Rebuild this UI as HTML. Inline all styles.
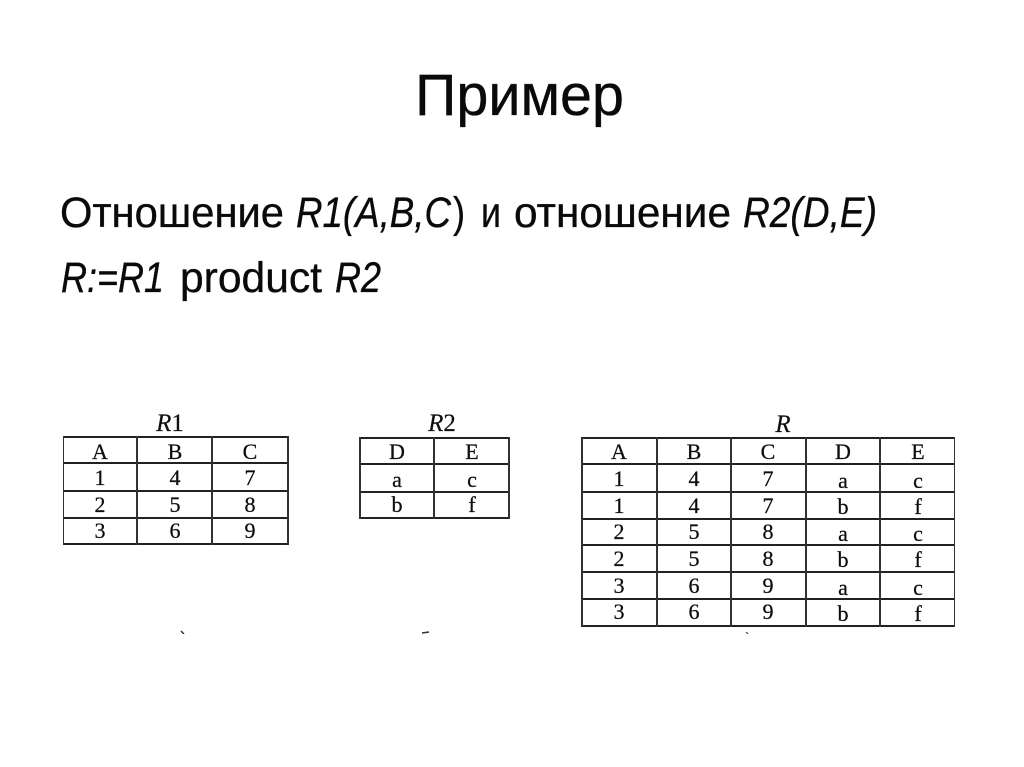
<!DOCTYPE html>
<html lang="ru">
<head>
<meta charset="utf-8">
<title>Пример</title>
<style>
html,body{margin:0;padding:0;background:#fff;width:1024px;height:767px;overflow:hidden}
svg{display:block}
.s{font-family:"Liberation Sans",sans-serif;fill:#0a0a0a;stroke:#0a0a0a;stroke-width:.35}
.i{font-style:italic}
.t{font-family:"Liberation Serif",serif;font-size:22px;fill:#111;stroke:#111;stroke-width:.25;text-anchor:middle}
.h{font-family:"Liberation Serif",serif;font-size:25px;font-style:italic;fill:#111;stroke:#111;stroke-width:.2;text-anchor:middle}
.g line{stroke:#222;stroke-width:2}
.g line.v{stroke:#333}
</style>
</head>
<body>
<svg width="1024" height="767" viewBox="0 0 1024 767" xmlns="http://www.w3.org/2000/svg">
<defs><filter id="b" x="0" y="0" width="100%" height="100%"><feGaussianBlur stdDeviation="0.3"/></filter></defs>
<rect width="1024" height="767" fill="#fff"/>

<text class="s" x="415" y="115" font-size="58" textLength="209" lengthAdjust="spacingAndGlyphs">Пример</text>

<g font-size="43">
<text class="s" x="60" y="227" textLength="224" lengthAdjust="spacingAndGlyphs">Отношение</text>
<text class="s i" x="296" y="227" textLength="155" lengthAdjust="spacingAndGlyphs">R1(A,B,C</text>
<text class="s" x="453" y="227" textLength="12" lengthAdjust="spacingAndGlyphs">)</text>
<text class="s" x="481" y="227" textLength="20" lengthAdjust="spacingAndGlyphs">и</text>
<text class="s" x="514" y="227" textLength="217" lengthAdjust="spacingAndGlyphs">отношение</text>
<text class="s i" x="743" y="227" textLength="134" lengthAdjust="spacingAndGlyphs">R2(D,E)</text>
<text class="s i" x="61" y="292" textLength="103" lengthAdjust="spacingAndGlyphs">R:=R1</text>
<text class="s" x="180" y="292" textLength="142" lengthAdjust="spacingAndGlyphs">product</text>
<text class="s i" x="335" y="292" textLength="46" lengthAdjust="spacingAndGlyphs">R2</text>
</g>

<g filter="url(#b)">
<!-- R1 -->
<text class="h" x="170" y="431">R<tspan font-style="normal">1</tspan></text>
<g class="g">
<line x1="63" y1="437" x2="288" y2="437"/><line x1="63" y1="463" x2="288" y2="463"/><line x1="63" y1="491" x2="288" y2="491"/><line x1="63" y1="518" x2="288" y2="518"/><line x1="63" y1="544" x2="288" y2="544"/>
<line class="v" x1="63" y1="436" x2="63" y2="545"/><line class="v" x1="137" y1="436" x2="137" y2="545"/><line class="v" x1="212" y1="436" x2="212" y2="545"/><line class="v" x1="288" y1="436" x2="288" y2="545"/>
</g>
<text class="t" x="100" y="459">A</text><text class="t" x="175" y="459">B</text><text class="t" x="250" y="459">C</text>
<text class="t" x="100" y="485">1</text><text class="t" x="175" y="485">4</text><text class="t" x="250" y="485">7</text>
<text class="t" x="100" y="512">2</text><text class="t" x="175" y="512">5</text><text class="t" x="250" y="512">8</text>
<text class="t" x="100" y="538">3</text><text class="t" x="175" y="538">6</text><text class="t" x="250" y="538">9</text>

<!-- R2 -->
<text class="h" x="442" y="431">R<tspan font-style="normal">2</tspan></text>
<g class="g">
<line x1="360" y1="438" x2="509" y2="438"/><line x1="360" y1="464" x2="509" y2="464"/><line x1="360" y1="492" x2="509" y2="492"/><line x1="360" y1="518" x2="509" y2="518"/>
<line class="v" x1="360" y1="437" x2="360" y2="519"/><line class="v" x1="434" y1="437" x2="434" y2="519"/><line class="v" x1="509" y1="437" x2="509" y2="519"/>
</g>
<text class="t" x="397" y="459">D</text><text class="t" x="472" y="459">E</text>
<text class="t" x="397" y="487">a</text><text class="t" x="472" y="487">c</text>
<text class="t" x="397" y="512">b</text><text class="t" x="472" y="512">f</text>

<!-- R -->
<text class="h" x="783" y="432" font-size="27">R</text>
<g class="g">
<line x1="582" y1="438" x2="955" y2="438"/><line x1="582" y1="464" x2="955" y2="464"/><line x1="582" y1="492" x2="955" y2="492"/><line x1="582" y1="519" x2="955" y2="519"/><line x1="582" y1="545" x2="955" y2="545"/><line x1="582" y1="572" x2="955" y2="572"/><line x1="582" y1="599" x2="955" y2="599"/><line x1="582" y1="626" x2="955" y2="626"/>
<line class="v" x1="582" y1="437" x2="582" y2="627"/><line class="v" x1="657" y1="437" x2="657" y2="627"/><line class="v" x1="731" y1="437" x2="731" y2="627"/><line class="v" x1="806" y1="437" x2="806" y2="627"/><line class="v" x1="880" y1="437" x2="880" y2="627"/><line class="v" x1="955" y1="437" x2="955" y2="627"/>
</g>
<text class="t" x="619" y="459">A</text><text class="t" x="694" y="459">B</text><text class="t" x="768" y="459">C</text><text class="t" x="843" y="459">D</text><text class="t" x="918" y="459">E</text>
<text class="t" x="619" y="486">1</text><text class="t" x="694" y="486">4</text><text class="t" x="768" y="486">7</text><text class="t" x="843" y="488">a</text><text class="t" x="918" y="488">c</text>
<text class="t" x="619" y="513">1</text><text class="t" x="694" y="513">4</text><text class="t" x="768" y="513">7</text><text class="t" x="843" y="514">b</text><text class="t" x="918" y="514">f</text>
<text class="t" x="619" y="539">2</text><text class="t" x="694" y="539">5</text><text class="t" x="768" y="539">8</text><text class="t" x="843" y="541">a</text><text class="t" x="918" y="541">c</text>
<text class="t" x="619" y="566">2</text><text class="t" x="694" y="566">5</text><text class="t" x="768" y="566">8</text><text class="t" x="843" y="567">b</text><text class="t" x="918" y="567">f</text>
<text class="t" x="619" y="593">3</text><text class="t" x="694" y="593">6</text><text class="t" x="768" y="593">9</text><text class="t" x="843" y="595">a</text><text class="t" x="918" y="595">c</text>
<text class="t" x="619" y="619">3</text><text class="t" x="694" y="619">6</text><text class="t" x="768" y="619">9</text><text class="t" x="843" y="621">b</text><text class="t" x="918" y="621">f</text>

<!-- scan specks -->
<line x1="181" y1="631" x2="184" y2="634" stroke="#333" stroke-width="1.5"/>
<line x1="422" y1="633" x2="429" y2="632" stroke="#333" stroke-width="1.5"/>
<line x1="746" y1="632" x2="748" y2="634" stroke="#444" stroke-width="1.2"/>
</g>
</svg>
</body>
</html>
